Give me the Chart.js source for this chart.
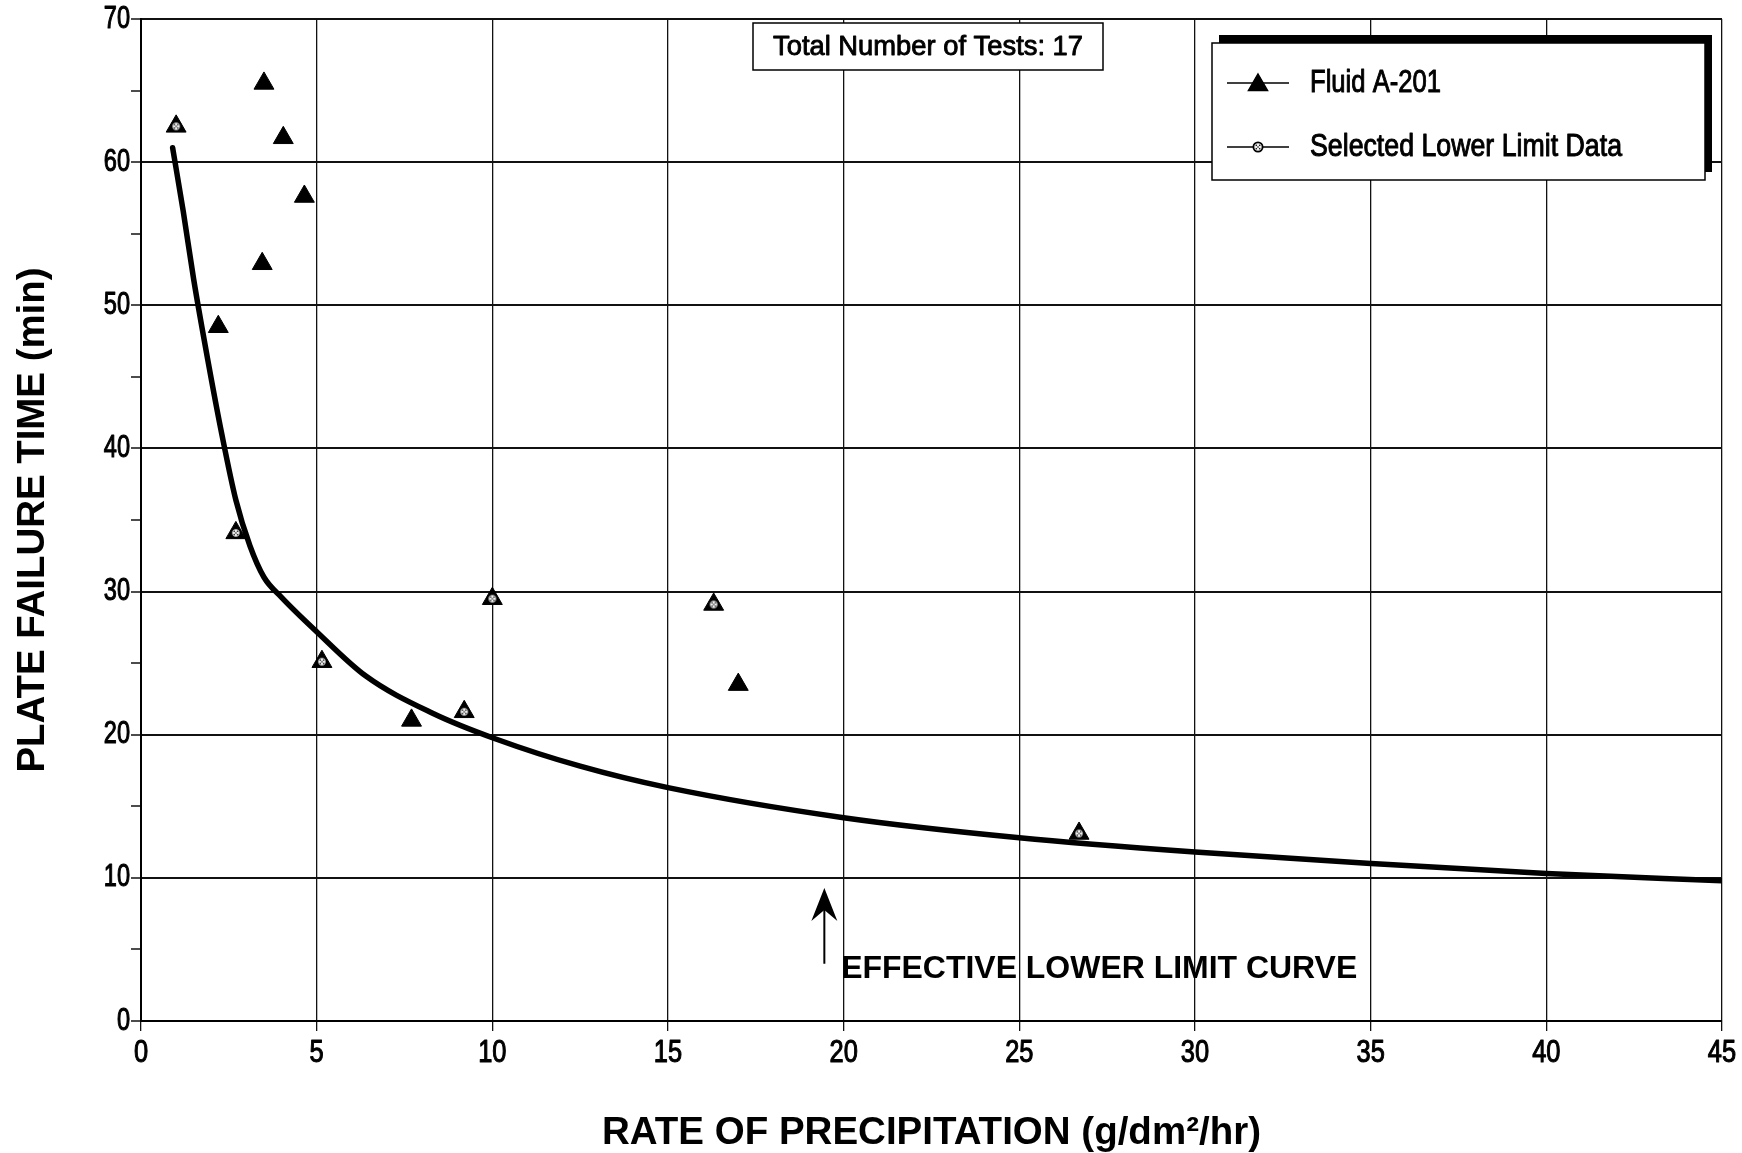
<!DOCTYPE html>
<html><head><meta charset="utf-8">
<script src="https://cdn.jsdelivr.net/npm/chart.js@4.4.1/dist/chart.umd.min.js"></script>
<style>html,body{margin:0;padding:0;background:#fff;}#wrap{width:1742px;height:1153px;}</style>
</head><body><div id="wrap"><canvas id="c" width="1742" height="1153"></canvas></div>
<script>
// ---- data ----
const fluidX = [1.0, 2.2, 3.5, 3.45, 4.05, 4.65, 2.7, 5.15, 7.7, 9.2, 10.0, 16.3, 17.0, 26.7];
const fluidY = [62.5, 48.5, 65.5, 52.9, 61.7, 57.6, 34.1, 25.1, 21.0, 21.6, 29.5, 29.1, 23.5, 13.1];
const selectedX = [1.0, 2.7, 5.15, 9.2, 10.0, 16.3, 26.7];
const selectedY = [62.5, 34.1, 25.1, 21.6, 29.5, 29.1, 13.1];
const curveX = [0.9, 1.2, 1.5, 1.9, 2.3, 2.7, 3.1, 3.5, 4.0, 5.0, 6.4, 8.3, 10.1, 12.5, 15, 20, 25, 30, 35, 40, 45];
const curveY = [61.0, 56.6, 51.8, 46.2, 41.0, 36.4, 33.2, 31.0, 29.6, 27.2, 24.1, 21.5, 19.7, 17.8, 16.3, 14.2, 12.8, 11.8, 11.0, 10.3, 9.8];
const xTicks = [0, 5, 10, 15, 20, 25, 30, 35, 40, 45];
const yTicks = [0, 10, 20, 30, 40, 50, 60, 70];
const seriesNames = ['Fluid A-201', 'Selected Lower Limit Data'];
const testCountText = 'Total Number of Tests: 17';
const curveLabel = 'EFFECTIVE LOWER LIMIT CURVE';
const xTitle = 'RATE OF PRECIPITATION (g/dm\u00B2/hr)';
const yTitle = 'PLATE FAILURE TIME (min)';

const SANS = "'Liberation Sans',Arial,sans-serif";

function zip(xs, ys) { return xs.map((x, i) => ({x: x, y: ys[i]})); }

function makeSelMarker() {
  const c = document.createElement('canvas');
  c.width = 12; c.height = 12;
  const g = c.getContext('2d');
  g.beginPath(); g.arc(6, 6, 4.6, 0, Math.PI * 2);
  g.fillStyle = '#eeeeee'; g.fill();
  g.lineWidth = 1.8; g.strokeStyle = '#000'; g.stroke();
  g.fillStyle = '#222';
  [[4.3,4.3],[7.7,4.3],[6,6],[4.3,7.7],[7.7,7.7]].forEach(p => { g.fillRect(p[0]-0.7, p[1]-0.7, 1.4, 1.4); });
  return c;
}
const selMarker = makeSelMarker();

function drawText(ctx, text, x, y, font, opts) {
  ctx.save();
  ctx.font = font;
  const w = ctx.measureText(text).width;
  const s = opts.width ? opts.width / w : (opts.scale || 1);
  ctx.translate(x, y);
  ctx.scale(s, 1);
  ctx.textBaseline = 'middle';
  ctx.textAlign = opts.align || 'left';
  ctx.fillStyle = '#000';
  ctx.fillText(text, 0, 0);
  if (opts.thick) {
    ctx.strokeStyle = '#000';
    ctx.lineWidth = opts.thick;
    ctx.lineJoin = 'round';
    ctx.strokeText(text, 0, 0);
  }
  ctx.restore();
}

const decor = {
  id: 'decor',
  afterDraw(chart) {
    const ctx = chart.ctx;
    const xs = chart.scales.x, ys = chart.scales.y, a = chart.chartArea;
    // tick labels (condensed)
    yTicks.forEach(v => drawText(ctx, String(v), a.left - 11, ys.getPixelForValue(v), "31px " + SANS, {scale: 0.76, align: 'right', thick: 1.1}));
    xTicks.forEach(v => drawText(ctx, String(v), xs.getPixelForValue(v), a.bottom + 32, "31px " + SANS, {scale: 0.82, align: 'center', thick: 1.1}));

    // axis titles
    drawText(ctx, xTitle, (a.left + a.right) / 2, 1133, "bold 39px " + SANS, {width: 659, align: 'center'});
    ctx.save();
    ctx.translate(33, (a.top + a.bottom) / 2);
    ctx.rotate(-Math.PI / 2);
    drawText(ctx, yTitle, 0, 0, "bold 39px " + SANS, {width: 505, align: 'center'});
    ctx.restore();

    // total tests box
    ctx.save();
    ctx.fillStyle = '#fff';
    ctx.fillRect(753, 23, 350, 47);
    ctx.strokeStyle = '#000'; ctx.lineWidth = 1.5;
    ctx.strokeRect(753, 23, 350, 47);
    ctx.restore();
    drawText(ctx, testCountText, 928, 47, "28px " + SANS, {width: 310, align: 'center', thick: 0.9});

    // legend with offset shadow
    ctx.save();
    ctx.fillStyle = '#000';
    ctx.fillRect(1219, 35, 493, 137);
    ctx.fillStyle = '#fff';
    ctx.fillRect(1212, 43, 493, 137);
    ctx.strokeStyle = '#000'; ctx.lineWidth = 1.5;
    ctx.strokeRect(1212, 43, 493, 137);
    [83, 147].forEach(yy => { ctx.beginPath(); ctx.moveTo(1227, yy); ctx.lineTo(1289, yy); ctx.stroke(); });
    ctx.fillStyle = '#000';
    Chart.helpers.drawPoint(ctx, {pointStyle: 'triangle', radius: 11, rotation: 0, borderWidth: 1}, 1258, 85);
    ctx.fill();
    ctx.drawImage(selMarker, 1258 - 6, 147 - 6);
    ctx.restore();
    drawText(ctx, seriesNames[0], 1310, 83, "32px " + SANS, {width: 131, thick: 1});
    drawText(ctx, seriesNames[1], 1310, 147, "32px " + SANS, {width: 312, thick: 1});

    // arrow + curve label
    const ax = xs.getPixelForValue(19.45);
    const tipY = ys.getPixelForValue(9.3);
    const botY = ys.getPixelForValue(4.0);
    ctx.save();
    ctx.strokeStyle = '#000'; ctx.lineWidth = 2;
    ctx.beginPath(); ctx.moveTo(ax, botY); ctx.lineTo(ax, tipY + 20); ctx.stroke();
    ctx.fillStyle = '#000';
    ctx.beginPath();
    ctx.moveTo(ax, tipY);
    ctx.lineTo(ax - 13, tipY + 33);
    ctx.lineTo(ax, tipY + 22);
    ctx.lineTo(ax + 13, tipY + 33);
    ctx.closePath(); ctx.fill();
    ctx.restore();
    drawText(ctx, curveLabel, xs.getPixelForValue(19.93), ys.getPixelForValue(3.6), "bold 32px " + SANS, {width: 516});
  }
};

new Chart(document.getElementById('c'), {
  type: 'scatter',
  data: {
    datasets: [
      { label: seriesNames[1], data: zip(selectedX, selectedY), pointStyle: selMarker, pointRadius: 6, order: 0, showLine: false },
      { label: seriesNames[0], data: zip(fluidX, fluidY), pointStyle: 'triangle', pointRadius: 11.5,
        backgroundColor: '#000', borderColor: '#000', borderWidth: 1, order: 1, showLine: false },
      { label: 'curve', type: 'line', data: zip(curveX, curveY), borderColor: '#000', borderWidth: 5.5,
        pointRadius: 0, cubicInterpolationMode: 'monotone', fill: false, order: 2, borderCapStyle: 'round' }
    ]
  },
  options: {
    responsive: false, animation: false, devicePixelRatio: 1,
    layout: { padding: { top: 19, right: 20, left: 0, bottom: 0 } },
    plugins: { legend: { display: false }, tooltip: { enabled: false } },
    scales: {
      x: {
        type: 'linear', min: 0, max: 45,
        afterBuildTicks: s => { s.ticks = xTicks.map(v => ({value: v})); },
        afterFit: s => { s.height = 132; },
        ticks: { display: false },
        grid: { color: '#111', lineWidth: 1.3, tickLength: 10, tickColor: '#111', tickWidth: 1.3 },
        border: { color: '#000', width: 2 }
      },
      y: {
        type: 'linear', min: 0, max: 70,
        afterBuildTicks: s => { const t = []; for (let v = 0; v <= 70; v += 5) t.push({value: v}); s.ticks = t; },
        afterFit: s => { s.width = 141; },
        ticks: { display: false },
        grid: { color: c => (c.tick && c.tick.value % 10 !== 0 ? 'rgba(0,0,0,0)' : '#111'),
          lineWidth: 2, tickLength: 10, tickColor: '#111', tickWidth: 1.5 },
        border: { color: '#000', width: 2 }
      }
    }
  },
  plugins: [decor]
});
</script></body></html>
